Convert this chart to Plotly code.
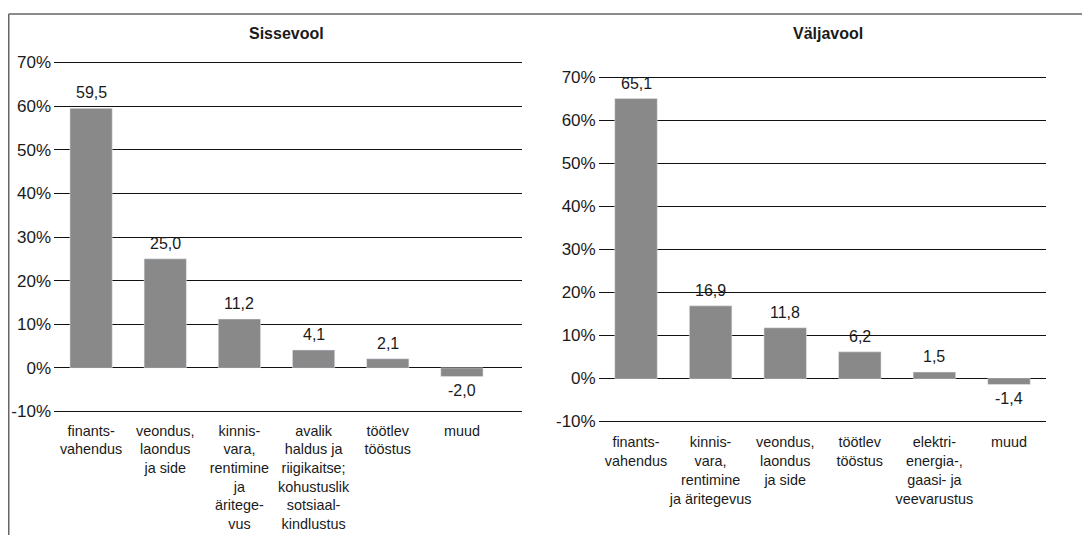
import plotly.graph_objects as go

# ---------------- data ----------------
left_title = "Sissevool"
right_title = "Väljavool"

left_categories = [
    "finants-<br>vahendus",
    "veondus,<br>laondus<br>ja side",
    "kinnis-<br>vara,<br>rentimine<br>ja<br>äritege-<br>vus",
    "avalik<br>haldus ja<br>riigikaitse;<br>kohustuslik<br>sotsiaal-<br>kindlustus",
    "töötlev<br>tööstus",
    "muud",
]
left_values = [59.5, 25.0, 11.2, 4.1, 2.1, -2.0]

right_categories = [
    "finants-<br>vahendus",
    "kinnis-<br>vara,<br>rentimine<br>ja äritegevus",
    "veondus,<br>laondus<br>ja side",
    "töötlev<br>tööstus",
    "elektri-<br>energia-,<br>gaasi- ja<br>veevarustus",
    "muud",
]
right_values = [65.1, 16.9, 11.8, 6.2, 1.5, -1.4]

y_ticks = [-10, 0, 10, 20, 30, 40, 50, 60, 70]
y_tick_labels = ["-10%", "0%", "10%", "20%", "30%", "40%", "50%", "60%", "70%"]

# ---------------- styling ----------------
# the page body has an 8px margin, so the figure is offset by 8px
OFF = 8
W, H = 1090 - OFF, 535 - OFF
FONT = "Liberation Sans, Arial, Helvetica, sans-serif"
TXT = "#1a1a1a"
BAR = "#898989"
YMIN, YMAX, PAD = -10, 70, 0.6


def px(x):
    return (x - OFF) / W


def py(y):
    return 1 - (y - OFF) / H


def ydomain(y_top_px, y_bot_px):
    # page pixel rows of YMAX and YMIN; pad the range so edge gridlines show
    s = (y_bot_px - y_top_px) / (YMAX - YMIN)
    return [py(y_bot_px + PAD * s), py(y_top_px - PAD * s)]


def fmt(v):
    return f"{v:.1f}".replace(".", ",")


fig = go.Figure()
fig.add_trace(go.Bar(x=left_categories, y=left_values, marker_color=BAR,
                     width=0.57, xaxis="x", yaxis="y", hoverinfo="skip"))
fig.add_trace(go.Bar(x=right_categories, y=right_values, marker_color=BAR,
                     width=0.57, xaxis="x2", yaxis="y2", hoverinfo="skip"))

annotations = []
for cats, vals, xr, yr in [(left_categories, left_values, "x", "y"),
                           (right_categories, right_values, "x2", "y2")]:
    for c, v in zip(cats, vals):
        annotations.append(dict(
            x=c, y=v, xref=xr, yref=yr, text=fmt(v), showarrow=False,
            yanchor="bottom" if v >= 0 else "top",
            yshift=5 if v >= 0 else -3,
            font=dict(family=FONT, size=16, color=TXT),
        ))

annotations.append(dict(x=px(286), y=py(34), xref="paper", yref="paper",
                        text=f"<b>{left_title}</b>", showarrow=False,
                        xanchor="center", yanchor="middle",
                        font=dict(family=FONT, size=16, color=TXT)))
annotations.append(dict(x=px(828), y=py(34), xref="paper", yref="paper",
                        text=f"<b>{right_title}</b>", showarrow=False,
                        xanchor="center", yanchor="middle",
                        font=dict(family=FONT, size=16, color=TXT)))

xcommon = dict(type="category", showgrid=False, zeroline=False, showline=False,
               ticks="", tickangle=0, automargin=False,
               tickfont=dict(family=FONT, size=14.4, color=TXT),
               fixedrange=True)
ycommon = dict(tickvals=y_ticks, ticktext=y_tick_labels, showgrid=True,
               gridcolor="#111111", gridwidth=1, zeroline=True,
               zerolinecolor="#111111", zerolinewidth=1, showline=False,
               ticks="", automargin=False, range=[YMIN - PAD, YMAX + PAD],
               tickfont=dict(family=FONT, size=17, color=TXT),
               ticklabelstandoff=2, fixedrange=True)

left_pad_px = PAD * (411.5 - 62.5) / (YMAX - YMIN)
right_pad_px = PAD * (421.5 - 77.5) / (YMAX - YMIN)

fig.update_layout(
    width=W, height=H,
    margin=dict(l=0, r=0, t=0, b=0),
    paper_bgcolor="white", plot_bgcolor="white",
    showlegend=False,
    bargap=0.43,
    xaxis=dict(domain=[px(54), px(522)], range=[-0.5, 5.81], anchor="y",
               ticklabelstandoff=round(9 - left_pad_px), **xcommon),
    yaxis=dict(domain=ydomain(62.5, 411.5), anchor="x", **ycommon),
    xaxis2=dict(domain=[px(598.7), px(1046.3)], range=[-0.5, 5.5], anchor="y2",
                ticklabelstandoff=round(11 - right_pad_px), **xcommon),
    yaxis2=dict(domain=ydomain(77.5, 421.5), anchor="x2", **ycommon),
    annotations=annotations,
    shapes=[
        dict(type="line", xref="paper", yref="paper", x0=px(8.75), x1=1,
             y0=py(14), y1=py(14), line=dict(color="#666666", width=1.5)),
        dict(type="line", xref="paper", yref="paper", x0=px(8.75), x1=px(8.75),
             y0=py(14), y1=0, line=dict(color="#666666", width=1.5)),
    ],
)

fig.write_html("out.html")
